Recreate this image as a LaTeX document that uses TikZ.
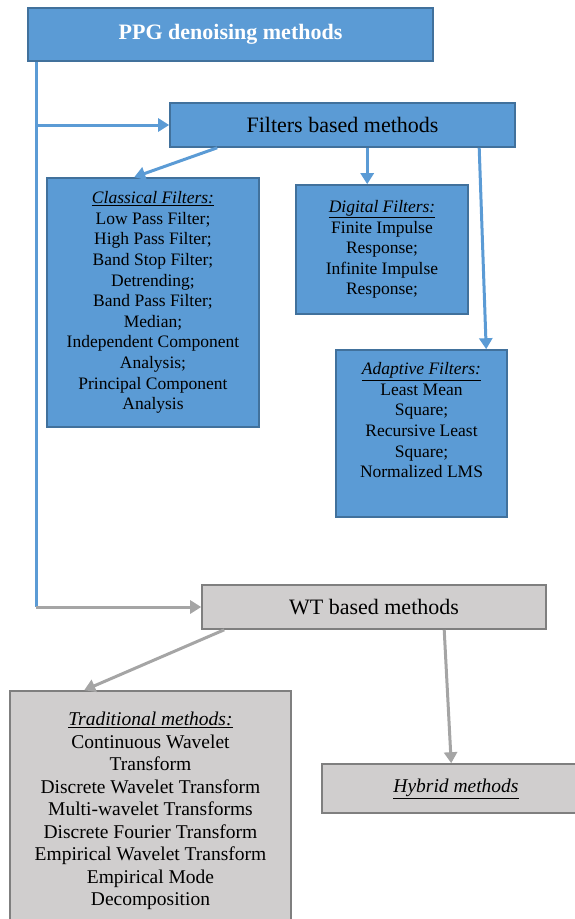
\documentclass[tikz,border=0pt]{standalone}
\usepackage{fontspec}
\setmainfont{Liberation Serif}
\usetikzlibrary{arrows.meta,calc}
\definecolor{bleu}{HTML}{5B9BD5}
\definecolor{bleufonce}{HTML}{41719C}
\definecolor{gris}{HTML}{D0CECE}
\definecolor{grisfonce}{HTML}{7F7F7F}
\definecolor{grisfleche}{HTML}{A5A5A5}
\begin{document}
\begin{tikzpicture}[x=1pt,y=-1pt]
% Styles
\tikzstyle{boite}=[rectangle,line width=1.6pt,align=center,inner sep=0pt,font=\fontsize{17.5}{20.6}\selectfont]
\tikzstyle{boitebleue}=[boite,fill=bleu,draw=bleufonce]
\tikzstyle{boitegrise}=[boite,fill=gris,draw=grisfonce]
\tikzstyle{titre}=[font=\fontsize{22}{24}\selectfont]
\tikzstyle{lienbleu}=[line width=3pt,bleu]
\tikzstyle{fleche}=[->,>={Triangle[length=11pt,width=13pt]},line width=3pt]
\tikzstyle{flechebleue}=[fleche,bleu]
\tikzstyle{flechegrise}=[fleche,grisfleche]
% Cadre de l'image
\useasboundingbox (0,0) rectangle (574,919);
% Racine
\node[boitebleue,minimum width=405,minimum height=53,text=white,font={\fontsize{22}{24}\selectfont\bfseries}] (ppg) at (230.5,34.5) {PPG denoising methods};
% Filtres
\node[boitebleue,minimum width=345,minimum height=44,titre] (filtres) at (342.5,125) {Filters based methods};
\node[boitebleue,minimum width=212,minimum height=249] (classiques) at (153,302.5) {\underline{\textit{Classical Filters:}}\\Low Pass Filter;\\High Pass Filter;\\Band Stop Filter;\\Detrending;\\Band Pass Filter;\\Median;\\Independent Component\\Analysis;\\Principal Component\\Analysis};
\node[boitebleue,minimum width=172,minimum height=129] (numeriques) at (382,249.5) {\underline{\textit{Digital Filters:}}\\Finite Impulse\\Response;\\Infinite Impulse\\Response;};
\node[boitebleue,minimum width=171,minimum height=167] (adaptatifs) at (421.5,433.5) {\underline{\textit{Adaptive Filters:}}\\Least Mean\\Square;\\Recursive Least\\Square;\\Normalized LMS\\[6pt]\mbox{}};
% Ondelettes
\node[boitegrise,minimum width=344,minimum height=44,titre] (ondelettes) at (374,607) {WT based methods};
\node[boitegrise,minimum width=281,minimum height=240,font=\fontsize{19.5}{22.5}\selectfont] (traditionnelles) at (150.5,811) {\underline{\textit{Traditional methods:}}\\Continuous Wavelet\\Transform\\Discrete Wavelet Transform\\Multi-wavelet Transforms\\Discrete Fourier Transform\\Empirical Wavelet Transform\\Empirical Mode\\Decomposition};
\node[boitegrise,minimum width=268,minimum height=49,font=\fontsize{19.5}{22.5}\selectfont] (hybrides) at (456,788.5) {\underline{\textit{Hybrid methods}}};
% Liens
\coordinate (tronc) at ($(ppg.south west)+(9,0)$);
\draw[lienbleu] (tronc) -- (tronc |- ondelettes.west);
\draw[flechebleue] (tronc |- filtres.west) -- (filtres.west);
\draw[flechegrise] (tronc |- ondelettes.west) -- (ondelettes.west);
\draw[flechebleue] ($(filtres.south west)+(48,0)$) -- ($(classiques.north west)+(88,0)$);
\draw[flechebleue] ($(filtres.south west)+(198,0)$) -- ($(numeriques.north west)+(72,0)$);
\draw[flechebleue] ($(filtres.south west)+(310,0)$) -- ($(adaptatifs.north west)+(151,0)$);
\draw[flechegrise] ($(ondelettes.south west)+(23,0)$) -- ($(traditionnelles.north west)+(75,0)$);
\draw[flechegrise] ($(ondelettes.south west)+(243,0)$) -- ($(hybrides.north west)+(130,0)$);
\end{tikzpicture}
\end{document}
